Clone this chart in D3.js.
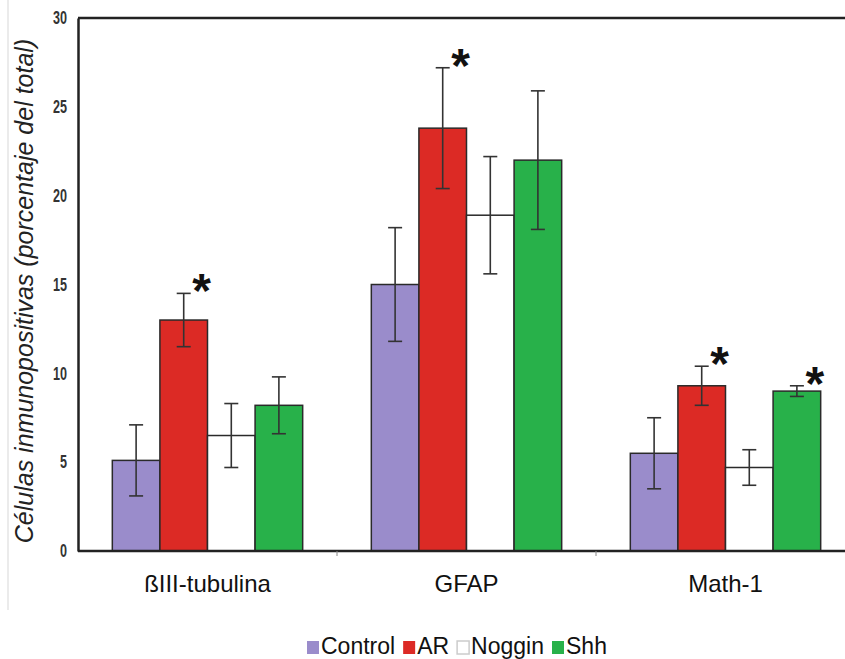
<!DOCTYPE html>
<html lang="en">
<head>
<meta charset="UTF-8">
<title>Células inmunopositivas</title>
<style>
  body { margin: 0; background: #fff; font-family: "Liberation Sans", Arial, sans-serif; }
  .tick text { font-weight: bold; fill: #333; }
</style>
</head>
<body>
<svg id="chart" width="845" height="659"></svg>
<script src="https://cdn.jsdelivr.net/npm/d3@7"></script>
<script>
const groups = ["ßIII-tubulina", "GFAP", "Math-1"];
const series = ["Control", "AR", "Noggin", "Shh"];
const colors = ["#9a8ccb", "#dc2a25", "#ffffff", "#28b14a"];
// mean values per series, one entry per group
const control = [5.1, 15.0, 5.5];
const ar      = [13.0, 23.8, 9.3];
const noggin  = [6.5, 18.9, 4.7];
const shh     = [8.2, 22.0, 9.0];
// error half-lengths
const controlErr = [2.0, 3.2, 2.0];
const arErr      = [1.5, 3.4, 1.1];
const nogginErr  = [1.8, 3.3, 1.0];
const shhErr     = [1.6, 3.9, 0.3];
// significance markers: [group, series]
const stars = [[0, 1], [1, 1], [2, 1], [2, 3]];
const yTicks = [0, 5, 10, 15, 20, 25, 30];

const values = [control, ar, noggin, shh];
const errs = [controlErr, arErr, nogginErr, shhErr];

const svg = d3.select("#chart");
const m = { left: 78, top: 18, bottom: 551, right: 855 };

const x0 = d3.scaleBand().domain(groups).range([m.left, m.right])
    .paddingInner(0.265).paddingOuter(0.1325);
const x1 = d3.scaleBand().domain(series).range([0, x0.bandwidth()]);
const y = d3.scaleLinear().domain([0, 30]).range([m.bottom, m.top]);

// faint scan line at far left
svg.append("line").attr("x1", 8).attr("x2", 8).attr("y1", 0).attr("y2", 610)
    .attr("stroke", "#e4e4e4").attr("stroke-width", 1.5);

// bars
const data = [];
groups.forEach((g, gi) => series.forEach((s, si) => {
    data.push({ g, s, gi, si, v: values[si][gi], e: errs[si][gi] });
}));

svg.append("g").selectAll("rect").data(data).join("rect")
    .attr("x", d => x0(d.g) + x1(d.s))
    .attr("y", d => y(d.v))
    .attr("width", x1.bandwidth())
    .attr("height", d => y(0) - y(d.v))
    .attr("fill", d => colors[d.si])
    .attr("stroke", "#2a2a2a")
    .attr("stroke-width", 1.5);

// error bars
const eg = svg.append("g").attr("stroke", "#333").attr("stroke-width", 1.6);
data.forEach(d => {
    const cx = x0(d.g) + x1(d.s) + x1.bandwidth() / 2;
    eg.append("line").attr("x1", cx).attr("x2", cx)
        .attr("y1", y(d.v - d.e)).attr("y2", y(d.v + d.e));
    [d.v - d.e, d.v + d.e].forEach(v => {
        eg.append("line").attr("x1", cx - 7).attr("x2", cx + 7)
            .attr("y1", y(v)).attr("y2", y(v));
    });
});

// stars
svg.append("g").selectAll("text").data(stars).join("text")
    .attr("x", d => x0(groups[d[0]]) + x1(series[d[1]]) + x1.bandwidth() / 2 + 18)
    .attr("y", d => y(values[d[1]][d[0]] + errs[d[1]][d[0]]) + 14)
    .attr("text-anchor", "middle")
    .attr("font-size", 48)
    .attr("font-weight", "bold")
    .attr("fill", "#111")
    .text("*");

// y axis
const yAxis = svg.append("g").attr("transform", `translate(${m.left},0)`)
    .call(d3.axisLeft(y).tickValues(yTicks).tickSize(0).tickPadding(11));
yAxis.select(".domain").attr("stroke", "#222").attr("stroke-width", 2.5);
yAxis.selectAll("text")
    .attr("font-size", 18)
    .attr("font-family", "Liberation Sans, Arial, sans-serif")
    .attr("textLength", d => String(d).length * 7)
    .attr("lengthAdjust", "spacingAndGlyphs");

// top frame and baseline
svg.append("line").attr("x1", m.left).attr("x2", 845).attr("y1", m.top).attr("y2", m.top)
    .attr("stroke", "#222").attr("stroke-width", 2.5);
svg.append("line").attr("x1", m.left).attr("x2", 845).attr("y1", m.bottom).attr("y2", m.bottom)
    .attr("stroke", "#222").attr("stroke-width", 2.5);

// small ticks between groups
[0, 1].forEach(i => {
    const tx = (x0(groups[i]) + x0.bandwidth() + x0(groups[i + 1])) / 2;
    svg.append("line").attr("x1", tx).attr("x2", tx).attr("y1", m.bottom).attr("y2", m.bottom + 5)
        .attr("stroke", "#888").attr("stroke-width", 1);
});

// group labels
svg.append("g").selectAll("text").data(groups).join("text")
    .attr("x", d => x0(d) + x0.bandwidth() / 2)
    .attr("y", 592)
    .attr("text-anchor", "middle")
    .attr("font-size", 24)
    .attr("fill", "#111")
    .text(d => d);

// y label
svg.append("text")
    .attr("transform", "translate(33,291) rotate(-90)")
    .attr("text-anchor", "middle")
    .attr("font-size", 25)
    .attr("font-style", "italic")
    .attr("fill", "#222")
    .text("Células inmunopositivas (porcentaje del total)");

// legend, laid out left to right by measured text width
const leg = svg.append("g").attr("transform", "translate(0,636)");
let lx = 307;
series.forEach((s, i) => {
    leg.append("rect").attr("x", lx).attr("y", 5).attr("width", 12).attr("height", 13)
        .attr("fill", colors[i])
        .attr("stroke", i === 2 ? "#ccc" : "none")
        .attr("stroke-width", 1.5);
    const t = leg.append("text").attr("x", lx + 14).attr("y", 18)
        .attr("font-size", 23).attr("fill", "#111").text(s);
    lx += 14 + t.node().getComputedTextLength() + 8;
});
</script>
</body>
</html>
